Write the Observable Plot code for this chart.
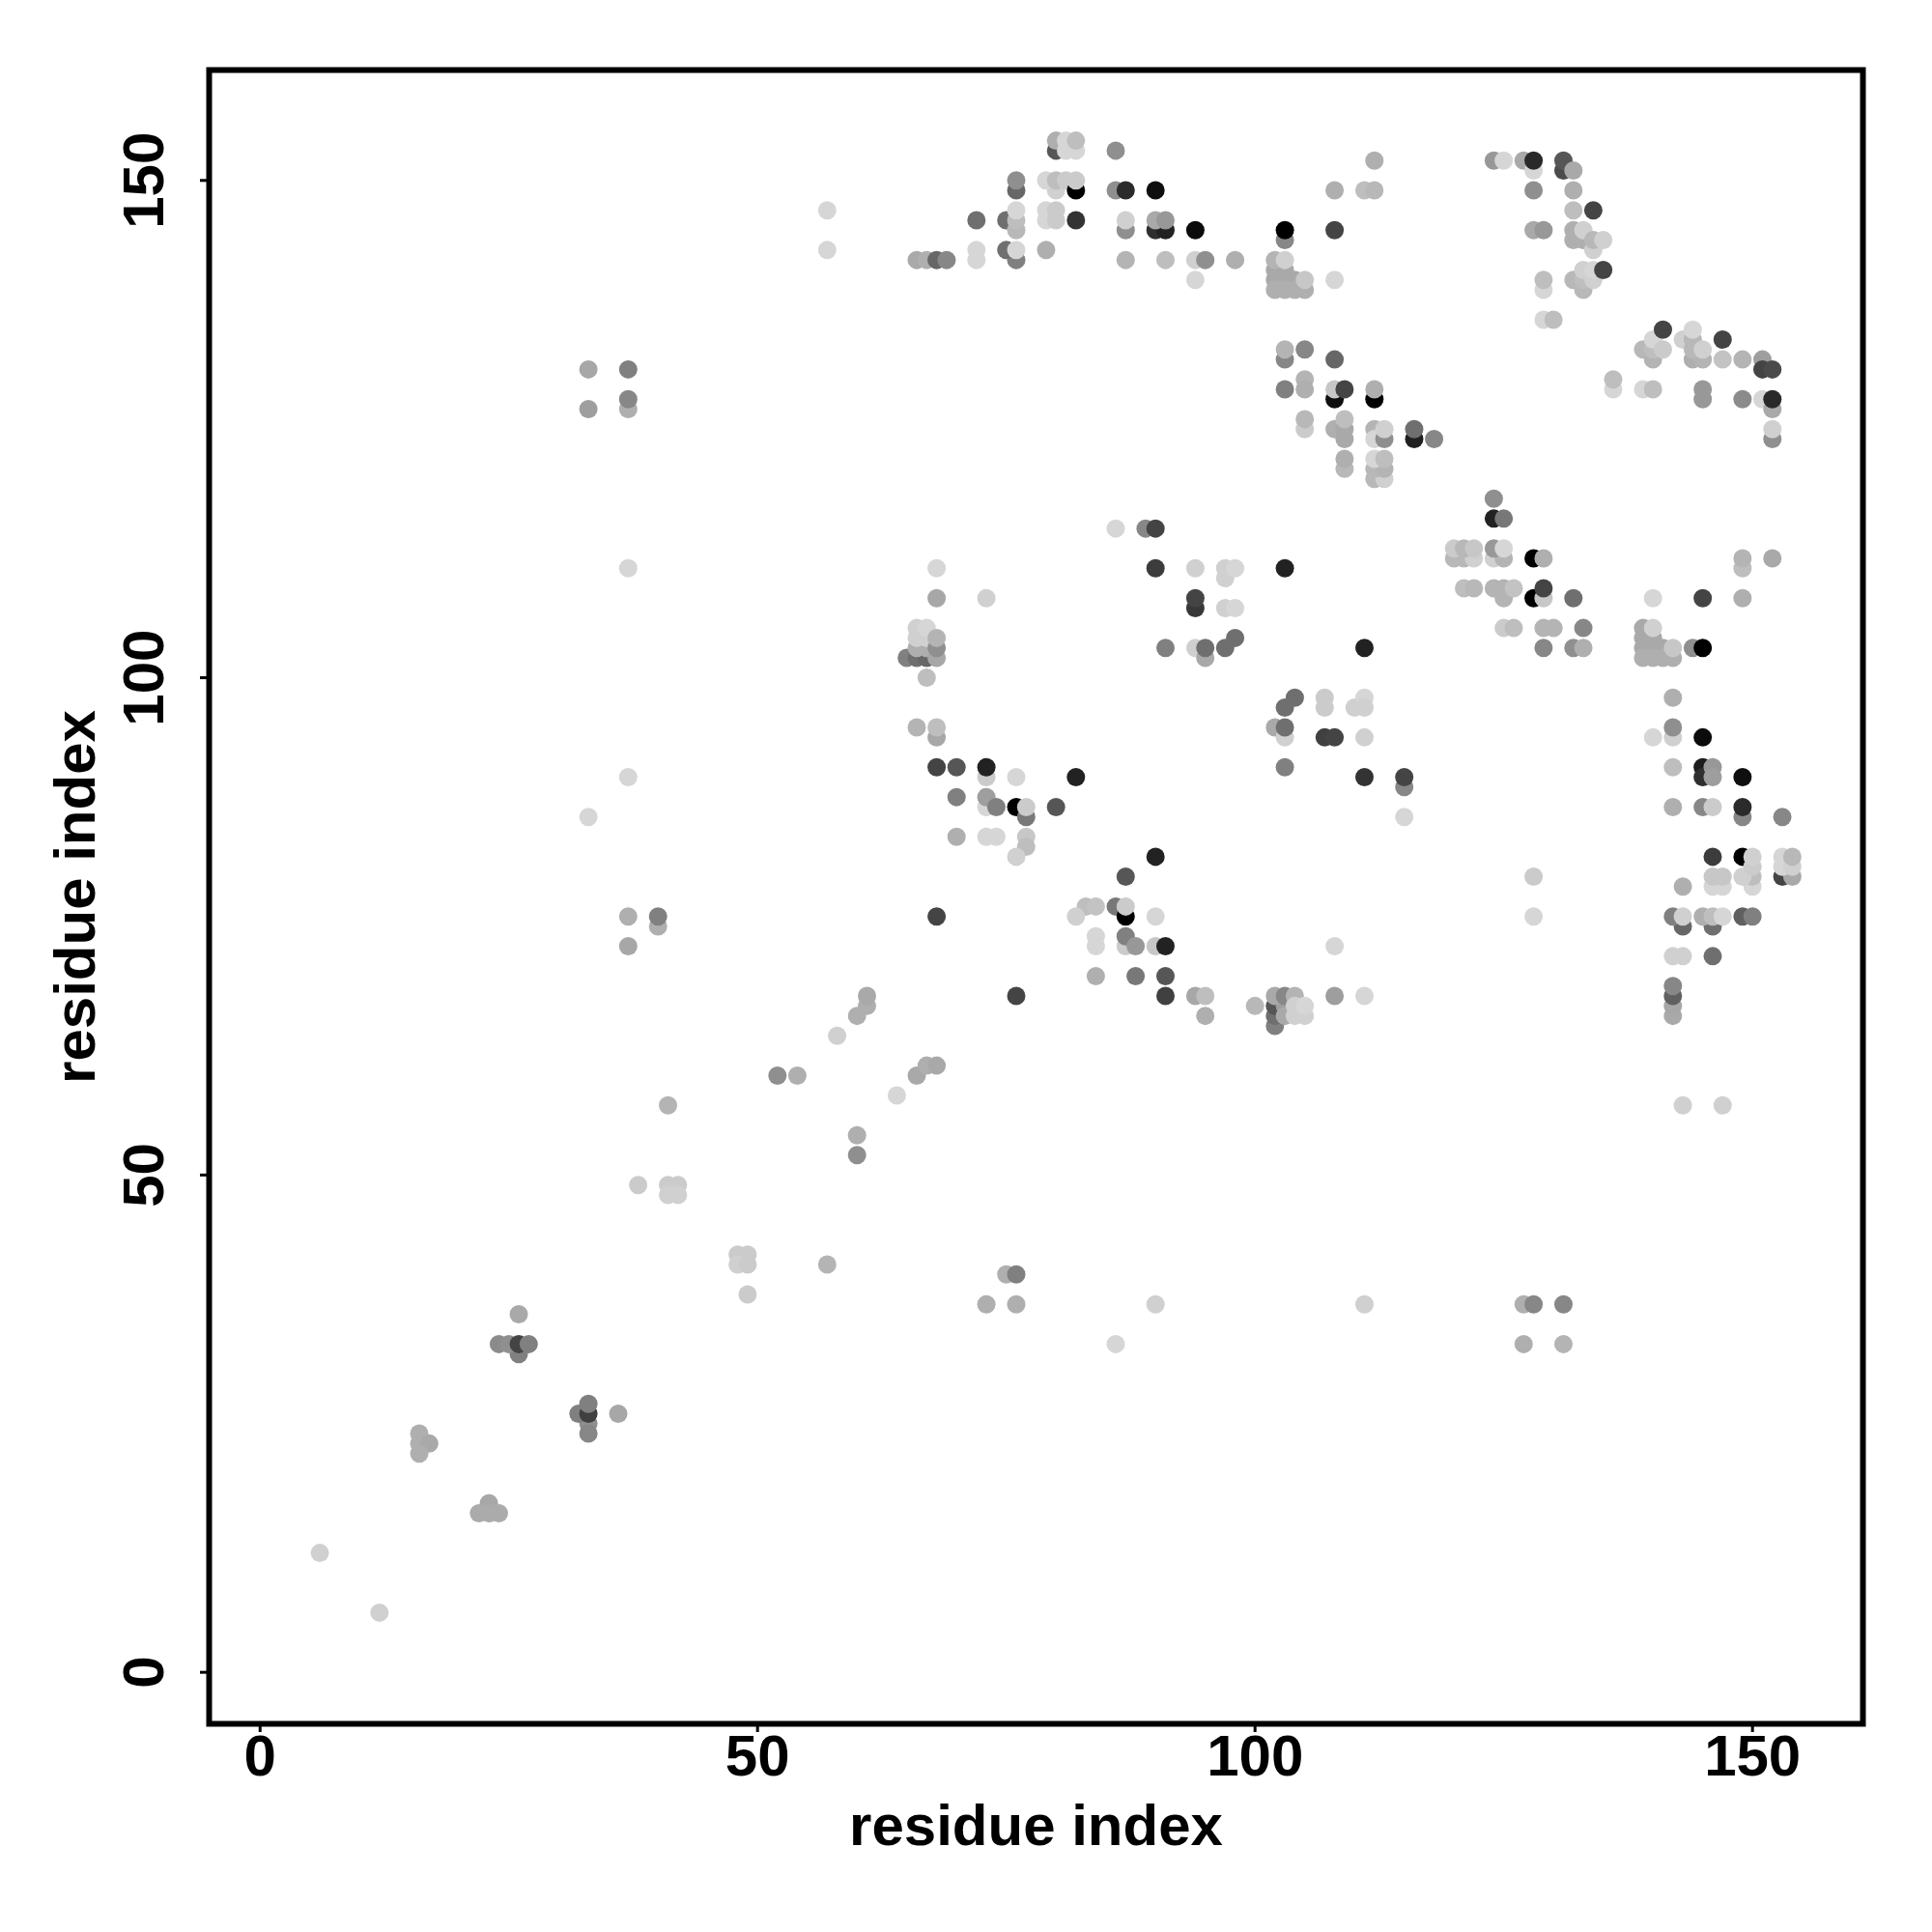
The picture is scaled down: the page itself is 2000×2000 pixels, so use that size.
<!DOCTYPE html>
<html>
<head>
<meta charset="utf-8">
<script src="https://cdn.jsdelivr.net/npm/d3@7"></script>
<script src="https://cdn.jsdelivr.net/npm/@observablehq/plot@0.6"></script>
<style>html,body{margin:0;padding:0;background:#fff}svg{display:block}</style>
</head>
<body>
<div id="chart"></div>
<script>
// Each contact: [residue i, residue j, score 0-100]
const nearDiagonal = [[6,12,3],[12,6,3],[16,24,18],[16,23,18],[17,23,21],[16,22,18],[23,17,22],[22,16,20],[23,16,20],[24,16,20],
[26,36,21],[26,32,40],[24,33,35],[25,33,33],[26,33,68],[27,33,40],
[33,25,33],[33,24,37],[32,26,40],[33,26,70],[33,27,40],[36,26,22],
[38,49,5],[41,49,5],[42,49,5],[41,48,3],[42,48,3],[41,57,16],[48,42,5],[49,42,5],[48,41,3],[49,41,5],[49,38,5],[57,41,16],
[52,60,33],[54,60,18],[60,54,18],[60,52,33],[64,58,0],[66,60,21],[67,61,18],[68,61,21],[58,64,3],[60,66,18],[61,67,18],[61,68,21]];
const farOff = [[33,131,22],[37,131,40],[37,127,18],[37,128,37],[33,127,26],[37,111,0],[37,90,0],[33,86,0],[37,76,18],[40,75,18],[40,76,40],[37,73,22],
[75,40,18],[76,40,40],[73,37,18],[76,37,18],[90,37,3],[111,37,3],[127,37,18],[128,37,37],[131,37,37],[86,33,0],[127,33,18],[131,33,16],[128,80,5],[128,76,0]];
const topBand = [[57,147,0],[57,143,0],
[80,153,60],[80,154,18],[81,153,0],[82,153,0],[81,154,0],[82,154,11],[86,153,33],
[76,149,52],[76,150,33],[80,149,3],[79,150,0],[80,150,11],[81,150,5],[82,149,100],[82,150,5],[86,149,33],[87,149,80],[90,149,93],
[75,146,48],[76,145,14],[76,146,11],[76,147,0],[72,146,48],[79,146,0],[79,147,0],[80,146,5],[80,147,5],[82,146,76],
[87,145,33],[87,146,3],[90,145,78],[91,145,84],[90,146,21],[91,146,29],[94,145,95],
[66,142,21],[67,142,18],[68,142,52],[69,142,37],[72,142,0],[72,143,0],[76,142,40],[75,143,48],[76,143,0],[79,143,18],
[87,142,16],[91,142,11],[94,142,3],[95,142,33],[98,142,18],[94,140,0],
[103,144,37],[103,145,100],[108,145,68],[108,149,18],
[102,141,21],[103,141,21],[102,140,21],[103,140,21],[104,140,21],[102,139,18],[103,139,18],[104,139,18],[105,139,18],[105,140,7],[102,142,16],[103,142,3],[108,140,0]];
const topRight = [[112,152,18],[111,149,11],[112,149,14],
[124,152,29],[125,152,0],[127,152,21],[128,151,0],[128,152,81],[131,151,65],[131,152,60],[132,151,21],[128,149,33],[132,149,18],[132,147,11],[134,147,68],
[128,145,21],[129,145,29],[132,144,18],[133,144,18],[132,145,18],[133,145,3],[134,143,3],[134,144,14],[135,144,3],
[129,139,0],[129,140,11],[132,140,14],[133,139,14],[133,140,11],[134,140,3],[133,141,3],[134,141,0],[135,141,68],
[129,136,0],[130,136,11]];
const midUpper = [[103,132,37],[103,133,16],[105,133,37],[108,132,52],[103,129,40],[105,130,16],[105,129,18],[108,128,93],[108,129,7],[109,129,68],[112,128,100],[112,129,18],
[105,125,5],[105,126,14],[108,125,18],[109,124,21],[109,125,21],[109,126,11],[112,125,16],[112,124,0],[113,124,33],[113,125,3],[116,124,85],[116,125,48],[118,124,37],
[109,121,14],[109,122,18],[112,120,14],[113,120,3],[112,121,14],[113,121,16],[112,122,0],[113,122,11]];
const upperRight = [[136,129,0],[136,130,11],[139,129,0],[140,129,11],
[139,133,14],[140,132,16],[140,133,11],[140,134,0],[141,133,5],[141,135,68],[143,134,3],[144,132,18],[145,132,16],[144,133,14],[144,134,14],[144,135,0],[145,133,3],[147,134,68],[147,132,9],[149,132,16],[151,132,26],[151,131,68],[152,131,65],
[145,129,29],[145,128,29],[149,128,35],[151,128,0],[152,127,21],[152,128,81],[152,124,33],[152,125,3]];
const midRight = [[124,118,33],[124,116,84],[125,116,44],
[120,112,14],[121,112,14],[122,112,3],[120,113,5],[121,113,14],[122,113,7],[124,112,3],[125,112,16],[124,113,29],[125,113,0],[128,112,100],[129,112,18],
[121,109,11],[122,109,14],[124,109,16],[125,108,16],[125,109,16],[126,109,9],[128,108,100],[129,108,7],[129,109,68],[132,108,48],
[125,105,5],[126,105,11],[129,105,16],[130,105,16],[133,105,37],[129,103,37],[132,103,33],[133,103,18],
[139,105,21],[139,104,21],[140,104,21],[139,103,21],[140,103,21],[141,103,21],[139,102,18],[140,102,18],[141,102,18],[142,102,18],[142,103,7],[140,105,3],
[140,108,0],[144,103,33],[145,103,100],[145,108,68],[149,108,18],[149,111,11],[149,112,16],[152,112,21]];
const lowerRight = [[142,98,18],[142,94,3],[140,94,0],[142,95,33],[145,94,95],[142,91,11],[145,91,87],[145,90,78],[146,91,29],[146,90,26],[149,90,93],
[142,87,18],[145,87,37],[146,87,5],[149,86,37],[149,87,80],[153,86,37],
[146,82,72],[149,82,100],[150,79,0],[150,80,11],[149,80,3],[150,81,5],[150,82,3],
[153,80,68],[154,80,21],[153,81,0],[153,82,0],[154,81,3],[154,82,14],
[143,79,18],[146,79,0],[147,79,0],[146,80,7],[147,80,7],
[143,75,52],[146,75,48],[142,76,40],[143,76,3],[145,76,18],[146,76,11],[147,76,0],[149,76,55],[150,76,40],
[142,72,3],[143,72,3],[146,72,48],
[142,66,21],[142,67,22],[142,68,55],[142,69,37],
[143,57,3],[147,57,3]];
const center = [[86,115,0],[89,115,37],[90,115,68],[90,111,72],[94,111,3],[97,110,3],[97,111,3],[98,111,0],[68,111,0],[68,108,22],[73,108,3],[94,107,74],[94,108,68],[97,107,3],[98,107,0],[98,104,48],
[91,103,40],[94,103,3],[95,102,21],[95,103,48],[97,103,48],
[65,102,40],[66,102,48],[67,102,52],[66,103,18],[67,103,18],[66,104,3],[67,104,3],[66,105,3],[67,105,0],[68,102,22],[68,103,33],[68,104,16],[67,100,11],
[66,95,16],[68,94,22],[68,95,11],
[68,91,68],[70,91,60],[73,90,5],[73,91,84],[76,90,0],[82,90,84],
[70,88,40],[73,87,0],[73,88,26],[74,87,40],[76,87,100],[77,86,44],[77,87,5],[80,87,60],
[70,84,18],[73,84,0],[74,84,0],[77,84,7],[77,83,11],[76,82,3],[90,82,84],[87,80,60],
[103,111,84],[111,103,84],
[104,98,48],[103,97,48],[107,98,5],[107,97,5],[110,97,3],[111,98,0],[111,97,3],[102,95,21],[103,94,3],[103,95,48],[107,94,70],[108,94,68],[111,94,3],[103,91,40],[111,90,76],[115,89,37],[115,90,68],[115,86,0]];
const bottomCenter = [[68,76,68],[76,68,68],[83,77,11],[84,77,9],[86,77,44],[82,76,3],[87,76,100],[87,77,5],[90,76,0],
[84,74,0],[84,73,0],[87,73,5],[87,74,40],[88,73,29],[90,73,7],[91,73,84],[84,70,18],[88,70,44],[91,70,60],[91,68,70],[94,68,22],[95,68,11],[95,66,18],
[100,67,14],[102,65,40],[102,66,48],[102,67,60],[103,67,26],[103,66,21],[102,68,21],[103,68,37],[104,68,16],[104,67,3],[104,66,3],[105,66,3],[105,67,0],
[108,68,26],[111,68,0],[108,73,0]];
const tickValues = [0, 50, 100, 150];
const axisTitle = "residue index";

const contacts = [nearDiagonal, farOff, topBand, topRight, midUpper, upperRight, midRight, lowerRight, center, bottomCenter]
  .flat().map(([i, j, score]) => ({i, j, score}));

const font = "'Liberation Sans', Arial, sans-serif";
const chart = Plot.plot({
  width: 2000, height: 2000,
  marginLeft: 216, marginRight: 72, marginTop: 72, marginBottom: 216,
  style: {fontFamily: font, background: "white", color: "black"},
  x: {domain: [-5.12, 161.1]},
  y: {domain: [-5.18, 161.1]},
  color: {type: "linear", domain: [0, 100], range: ["#d6d6d6", "#000000"]},
  marks: [
    Plot.dot(contacts, {x: "i", y: "j", fill: "score", r: 9.5}),
    Plot.frame({stroke: "black", strokeWidth: 6}),
    Plot.axisX({ticks: tickValues, tickSize: 9, tickPadding: 2, strokeWidth: 3,
      fontSize: 60, fontWeight: "bold", label: axisTitle, labelAnchor: "center", labelArrow: "none", labelOffset: 125}),
    Plot.axisY({ticks: tickValues, tickSize: 9, tickPadding: 39, tickRotate: -90, strokeWidth: 3,
      fontSize: 60, fontWeight: "bold", label: axisTitle, labelAnchor: "center", labelArrow: "none", labelOffset: 161})
  ]
});
document.getElementById("chart").appendChild(chart);
</script>
</body>
</html>
